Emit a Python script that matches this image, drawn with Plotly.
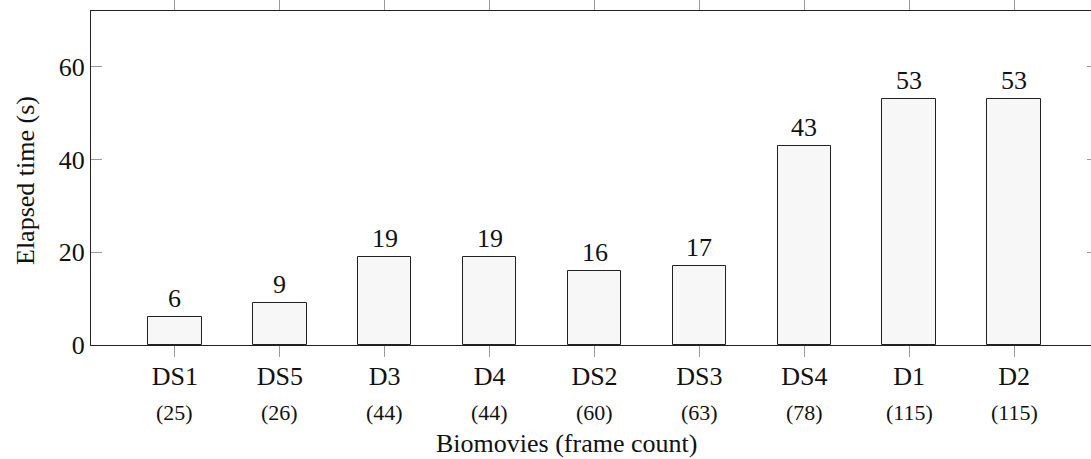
import plotly.graph_objects as go

# Elapsed processing time per biomovie
movies = ["DS1", "DS5", "D3", "D4", "DS2", "DS3", "DS4", "D1", "D2"]
frame_counts = [25, 26, 44, 44, 60, 63, 78, 115, 115]
elapsed_s = [6, 9, 19, 19, 16, 17, 43, 53, 53]
y_ticks = [0, 20, 40, 60]

FONT = "'Liberation Serif', 'Times New Roman', 'DejaVu Serif', serif"
TEXT_COLOR = "#111111"
AXIS_COLOR = "#222222"
TICK_COLOR = "#9a9a9a"

positions = list(range(len(movies)))

fig = go.Figure()
fig.add_trace(go.Bar(
    x=positions,
    y=elapsed_s,
    width=0.51,
    marker=dict(color="#f7f7f7", line=dict(color="#222222", width=1)),
    hoverinfo="skip",
))
# mirrored y ticks on the right-hand side
fig.add_trace(go.Scatter(x=[positions[0]], y=[0], yaxis="y2", mode="markers",
                         marker=dict(opacity=0), hoverinfo="skip", showlegend=False))

annotations = []
for p, v in zip(positions, elapsed_s):
    annotations.append(dict(x=p, y=v, xref="x", yref="y", text=str(v),
                            showarrow=False, yanchor="bottom", yshift=2,
                            font=dict(family=FONT, size=26, color=TEXT_COLOR)))
for p, n in zip(positions, frame_counts):
    annotations.append(dict(x=p, y=0, xref="x", yref="y", text=f"({n})",
                            showarrow=False, yanchor="middle", yshift=-67,
                            font=dict(family=FONT, size=22, color=TEXT_COLOR)))
annotations.append(dict(x=0.5, y=0, xref="paper", yref="y", text="Biomovies (frame count)",
                        showarrow=False, yanchor="middle", xanchor="center",
                        xshift=-25, yshift=-98,
                        font=dict(family=FONT, size=26, color=TEXT_COLOR)))
annotations.append(dict(x=0, y=0.5, xref="paper", yref="paper", text="Elapsed time (s)",
                        showarrow=False, textangle=-90, xanchor="center", yanchor="middle",
                        xshift=-66, yshift=-3,
                        font=dict(family=FONT, size=26, color=TEXT_COLOR)))

fig.update_layout(
    width=1091, height=459,
    margin=dict(l=91, r=0, t=11, b=114),
    paper_bgcolor="white", plot_bgcolor="white",
    showlegend=False,
    bargap=0,
    font=dict(family=FONT, size=26, color=TEXT_COLOR),
    xaxis=dict(
        range=[-0.8, 8.733],
        tickmode="array", tickvals=positions, ticktext=movies,
        ticks="outside", ticklen=11, tickwidth=1, tickcolor=TICK_COLOR,
        ticklabelstandoff=-3,
        showline=True, linecolor=AXIS_COLOR, linewidth=1, mirror="ticks",
        showgrid=False, zeroline=False,
        tickfont=dict(family=FONT, size=26, color=TEXT_COLOR),
    ),
    yaxis=dict(
        range=[0, 72],
        tickmode="array", tickvals=y_ticks,
        ticks="inside", ticklen=11, tickwidth=1, tickcolor=TICK_COLOR,
        showline=True, linecolor=AXIS_COLOR, linewidth=1,
        showgrid=False, zeroline=False,
        tickfont=dict(family=FONT, size=26, color=TEXT_COLOR),
    ),
    yaxis2=dict(
        range=[0, 72], overlaying="y", side="right", anchor="x",
        tickmode="array", tickvals=y_ticks, showticklabels=False,
        ticks="inside", ticklen=4, tickwidth=1, tickcolor=TICK_COLOR,
        showline=False, showgrid=False, zeroline=False,
    ),
    annotations=annotations,
)

fig.write_html("out.html")
